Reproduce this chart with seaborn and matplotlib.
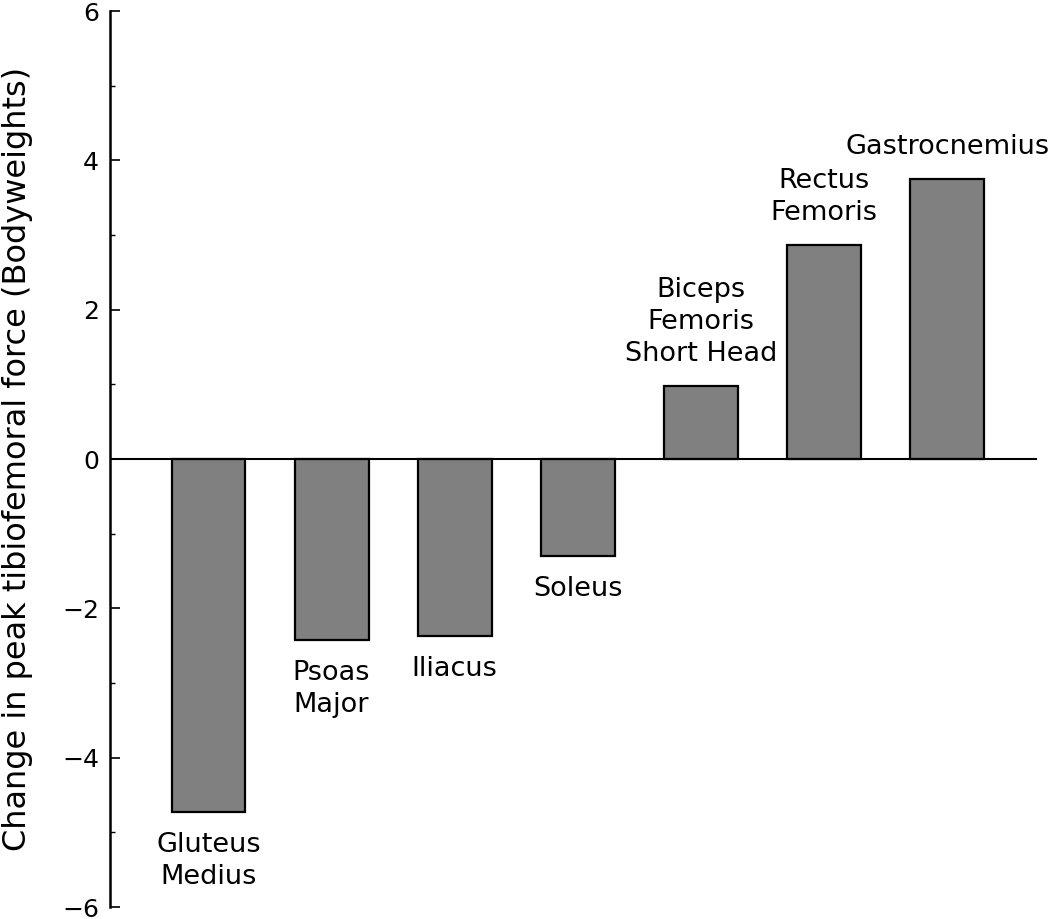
import numpy as np
import pandas as pd
import matplotlib
matplotlib.use('Agg')
import matplotlib.pyplot as plt
import seaborn as sns
from matplotlib.ticker import MultipleLocator

# data
musculos = ['Gluteus\nMedius', 'Psoas\nMajor', 'Iliacus', 'Soleus',
            'Biceps\nFemoris\nShort Head', 'Rectus\nFemoris', 'Gastrocnemius']
variacao = [-4.73, -2.42, -2.37, -1.30, 0.98, 2.87, 3.75]

df = pd.DataFrame({'musculo': musculos, 'variacao': variacao})

sns.set_style('white')
plt.rcParams['font.family'] = ['DejaVu Sans']
plt.rcParams['text.color'] = 'black'
plt.rcParams['axes.labelcolor'] = 'black'
plt.rcParams['ytick.color'] = 'black'

fig = plt.figure(figsize=(10.5, 9.19), dpi=100)
ax = fig.add_axes([0.1048, 0.013, 0.8828, 0.975])

sns.barplot(x='musculo', y='variacao', data=df, color='#808080',
            saturation=1, edgecolor='black', linewidth=1.6, width=0.6, ax=ax)

ax.axhline(0, color='black', linewidth=1.5)

# rotulos acima/abaixo de cada barra
for i, (nome, v) in enumerate(zip(musculos, variacao)):
    if v < 0:
        ax.text(i, v - 0.27, nome, ha='center', va='top', fontsize=19.5,
                linespacing=1.3, color='black')
    else:
        ax.text(i, v + 0.25, nome, ha='center', va='bottom', fontsize=19.5,
                linespacing=1.3, color='black')

ax.set_xlim(-0.8, 6.73)
ax.set_ylim(-6, 6)
ax.yaxis.set_major_locator(MultipleLocator(2))
ax.yaxis.set_minor_locator(MultipleLocator(1))
ax.tick_params(axis='y', which='major', direction='in', length=7, width=1.2,
               labelsize=18, pad=8, left=True, colors='black')
ax.tick_params(axis='y', which='minor', direction='in', length=3.5, width=1.0,
               left=True, colors='black')
ax.set_xticks([])
ax.set_xlabel('')
ax.set_ylabel('Change in peak tibiofemoral force (Bodyweights)', fontsize=23,
              labelpad=21, color='black')

for lado in ['top', 'right', 'bottom']:
    ax.spines[lado].set_visible(False)
ax.spines['left'].set_linewidth(1.8)
ax.spines['left'].set_color('black')

fig.savefig('out.png', dpi=100)
